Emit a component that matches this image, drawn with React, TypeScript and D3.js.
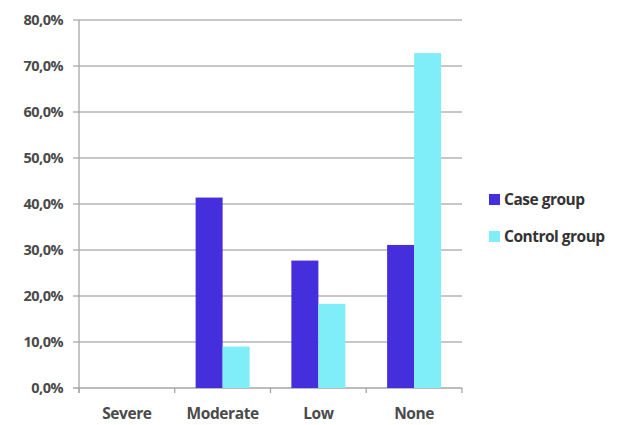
import React, { useEffect, useRef } from 'react';
import * as d3 from 'd3';

const categories = ['Severe', 'Moderate', 'Low', 'None'];
const seriesNames = ['Case group', 'Control group'];
const caseValues = [0, 41.4, 27.7, 31.1];
const controlValues = [0, 9.0, 18.3, 72.8];
const yTicks = [0, 10, 20, 30, 40, 50, 60, 70, 80];
const colors = ['#452fdc', '#80eef8'];

const W = 618;
const H = 425;
const margin = { top: 20, right: 156, bottom: 37, left: 79 };

export default function App() {
  const ref = useRef<SVGSVGElement>(null);

  useEffect(() => {
    const svg = d3.select(ref.current);
    svg.selectAll('*').remove();
    const width = W - margin.left - margin.right;
    const height = H - margin.top - margin.bottom;
    const font = '"Open Sans", "DejaVu Sans", sans-serif';

    const x = d3.scaleBand().domain(categories).range([0, width]);
    // Excel-style gap width of ~150%
    const x1 = d3.scaleBand().domain(seriesNames).range([0, x.bandwidth()]).paddingOuter(0.773).paddingInner(0);
    const y = d3.scaleLinear().domain([0, 80]).range([height, 0]);

    const g = svg.append('g').attr('transform', `translate(${margin.left},${margin.top})`);

    // gridlines + y ticks
    g.selectAll('line.grid')
      .data(yTicks)
      .enter()
      .append('line')
      .attr('x1', -6)
      .attr('x2', width)
      .attr('y1', d => y(d))
      .attr('y2', d => y(d))
      .attr('stroke', d => (d === 0 ? '#a6a6a6' : '#b4b4b4'))
      .attr('stroke-width', 1.3);

    g.selectAll('text.ylab')
      .data(yTicks)
      .enter()
      .append('text')
      .attr('x', -16)
      .attr('y', d => y(d))
      .attr('dy', '0.35em')
      .attr('text-anchor', 'end')
      .attr('font-family', font)
      .attr('font-size', 14.5)
      .attr('font-weight', 700)
      .attr('letter-spacing', -0.5)
      .attr('fill', '#4a4a4a')
      .text(d => d.toFixed(1).replace('.', ',') + '%');

    // y axis line
    g.append('line')
      .attr('x1', 0)
      .attr('x2', 0)
      .attr('y1', y(80))
      .attr('y2', height + 5)
      .attr('stroke', '#a6a6a6')
      .attr('stroke-width', 1.3);

    // category ticks
    const tickPos = categories.map(c => x(c)!).concat([width]);
    g.selectAll('line.xt')
      .data(tickPos)
      .enter()
      .append('line')
      .attr('x1', d => d)
      .attr('x2', d => d)
      .attr('y1', height)
      .attr('y2', height + 5)
      .attr('stroke', '#a6a6a6')
      .attr('stroke-width', 1.3);

    g.selectAll('text.xlab')
      .data(categories)
      .enter()
      .append('text')
      .attr('x', d => x(d)! + x.bandwidth() / 2)
      .attr('y', height + 31)
      .attr('text-anchor', 'middle')
      .attr('font-family', font)
      .attr('font-size', 15.5)
      .attr('font-weight', 700)
      .attr('letter-spacing', -0.4)
      .attr('fill', '#4a4a4a')
      .text(d => d);

    const data = categories.map((c, i) => ({ cat: c, vals: [caseValues[i], controlValues[i]] }));

    const groups = g.selectAll('g.cat')
      .data(data)
      .enter()
      .append('g')
      .attr('transform', d => `translate(${x(d.cat)},0)`);

    groups.selectAll('rect')
      .data(d => d.vals.map((v, i) => ({ name: seriesNames[i], v, i })))
      .enter()
      .append('rect')
      .attr('x', d => x1(d.name)!)
      .attr('width', x1.bandwidth())
      .attr('y', d => y(d.v))
      .attr('height', d => height - y(d.v))
      .attr('fill', d => colors[d.i]);

    // legend
    const legend = svg.append('g').attr('transform', 'translate(489,194)');
    seriesNames.forEach((name, i) => {
      const row = legend.append('g').attr('transform', `translate(0,${i * 37})`);
      row.append('rect').attr('width', 11).attr('height', 11).attr('fill', colors[i]);
      row.append('text')
        .attr('x', 15)
        .attr('y', 5.5)
        .attr('dy', '0.35em')
        .attr('font-family', font)
        .attr('font-size', 15.5)
        .attr('font-weight', 700)
        .attr('letter-spacing', -0.5)
        .attr('fill', '#333')
        .text(name);
    });
  }, []);

  return (
    <svg
      ref={ref}
      width={W}
      height={H}
      style={{ position: 'absolute', left: 0, top: 0, background: '#fff' }}
    />
  );
}
